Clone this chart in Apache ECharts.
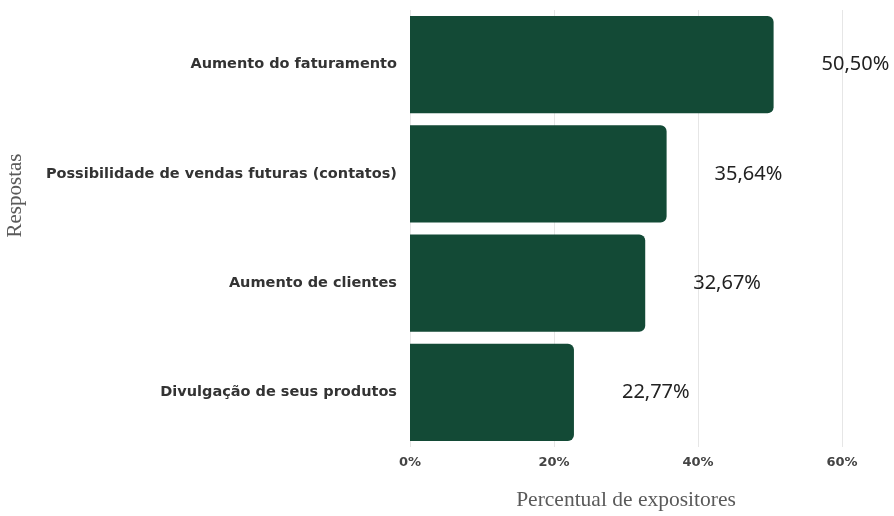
<!DOCTYPE html>
<html>
<head>
<meta charset="utf-8">
<script src="https://cdn.jsdelivr.net/npm/echarts@6/dist/echarts.min.js"></script>
<style>
  html, body {margin: 0; padding: 0; background: #fff;}
  #chart {width: 894px; height: 516px;}
</style>
</head>
<body>
<div id="chart"></div>
<script>
// respostas, de baixo para cima
let categories = ['Divulgação de seus produtos', 'Aumento de clientes', 'Possibilidade de vendas futuras (contatos)', 'Aumento do faturamento']
let values = [22.77, 32.67, 35.64, 50.50]
let xTicks = [0, 20, 40, 60]

let barColor = '#134a36'
let serif = '"Liberation Serif", "DejaVu Serif", serif'

let myChart = echarts.init(document.getElementById('chart'))
myChart.setOption({
  animation: false,
  grid: {
    left: 410,
    right: 52,
    top: 10,
    bottom: 68
  },
  xAxis: {
    type: 'value',
    min: xTicks[0],
    max: xTicks[xTicks.length - 1],
    interval: 20,
    name: 'Percentual de expositores',
    nameLocation: 'middle',
    nameGap: 42,
    nameTextStyle: {fontFamily: serif, fontSize: 21.5, color: '#5a5a5a'},
    axisLine: {show: false},
    axisTick: {show: false},
    axisLabel: {
      formatter: '{value}%',
      margin: 9,
      fontFamily: '"DejaVu Sans"',
      fontWeight: 'bold',
      fontSize: 13,
      color: '#444'
    },
    splitLine: {lineStyle: {color: '#e6e6e6', width: 1}}
  },
  yAxis: {
    type: 'category',
    data: categories,
    name: 'Respostas',
    nameLocation: 'middle',
    nameGap: 384,
    nameTextStyle: {fontFamily: serif, fontSize: 21, color: '#5a5a5a', padding: [0, 0, 0, 66]},
    axisLine: {show: false},
    axisTick: {show: false},
    axisLabel: {
      margin: 13,
      fontFamily: '"DejaVu Sans"',
      fontWeight: 'bold',
      fontSize: 14.5,
      color: '#333'
    }
  },
  series: [{
    type: 'bar',
    data: values,
    barCategoryGap: '11%',
    itemStyle: {color: barColor, borderRadius: [0, 6, 6, 0]},
    label: {
      show: true,
      position: 'right',
      distance: 48,
      fontFamily: '"Noto Sans"',
      fontSize: 20,
      color: '#222',
      formatter: p => p.value.toFixed(2).replace('.', ',') + '%'
    }
  }]
})
window.onresize = myChart.resize
</script>
</body>
</html>
